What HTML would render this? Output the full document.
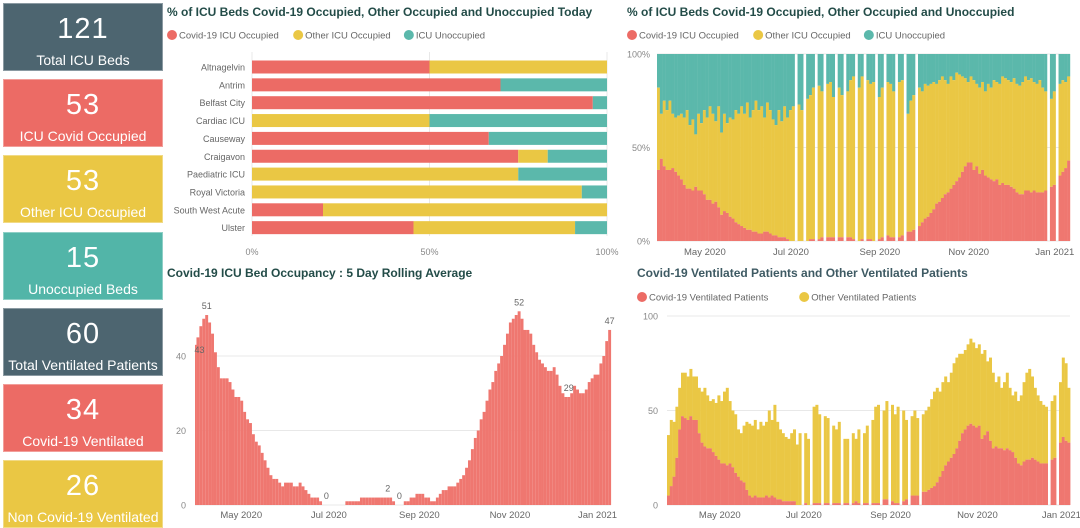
<!DOCTYPE html>
<html><head><meta charset="utf-8">
<style>
html,body{margin:0;padding:0;background:#fff;}
body{width:1080px;height:528px;position:relative;overflow:hidden;font-family:"Liberation Sans","DejaVu Sans",sans-serif;}
.card{position:absolute;left:3px;width:160px;height:68px;color:#fff;text-align:center;box-sizing:border-box;border:1px solid rgba(255,255,255,0.35);}
.card .num{position:absolute;left:0;right:0;top:8px;font-size:29px;line-height:34px;letter-spacing:1px;}
.card .lbl{position:absolute;left:0;right:0;top:47px;font-size:14px;line-height:18px;white-space:nowrap;}
.title{position:absolute;font-size:12px;font-weight:bold;color:#234C48;white-space:nowrap;}
svg{position:absolute;left:0;top:0;}
svg text{font-family:"Liberation Sans","DejaVu Sans",sans-serif;}
</style></head>
<body>
<div class="card" style="top:3px;background:#4D6570"><div class="num">121</div><div class="lbl">Total ICU Beds</div></div>
<div class="card" style="top:79px;background:#EC6B65"><div class="num">53</div><div class="lbl">ICU Covid Occupied</div></div>
<div class="card" style="top:155px;background:#EAC744"><div class="num">53</div><div class="lbl">Other ICU Occupied</div></div>
<div class="card" style="top:232px;background:#52B5A8"><div class="num">15</div><div class="lbl">Unoccupied Beds</div></div>
<div class="card" style="top:308px;background:#4D6570"><div class="num">60</div><div class="lbl">Total Ventilated Patients</div></div>
<div class="card" style="top:384px;background:#EC6B65"><div class="num">34</div><div class="lbl">Covid-19 Ventilated</div></div>
<div class="card" style="top:460px;background:#EAC744"><div class="num">26</div><div class="lbl">Non Covid-19 Ventilated</div></div>

<div class="title" style="left:167px;top:5px">% of ICU Beds Covid-19 Occupied, Other Occupied and Unoccupied Today</div>
<div class="title" style="left:627px;top:5px">% of ICU Beds Covid-19 Occupied, Other Occupied and Unoccupied</div>
<div class="title" style="left:167px;top:266px">Covid-19 ICU Bed Occupancy : 5 Day Rolling Average</div>
<div class="title" style="left:637px;top:266px;color:#3E5A63">Covid-19 Ventilated Patients and Other Ventilated Patients</div>

<svg id="chart" width="1080" height="528"></svg>

<script>
// ---- Chart 1: hospitals today ----
const hospitals = ["Altnagelvin","Antrim","Belfast City","Cardiac ICU","Causeway","Craigavon","Paediatric ICU","Royal Victoria","South West Acute","Ulster"];
const hospCovid = [50,70,96,0,66.7,75,0,0,20,45.5];
const hospOther = [50,0,0,50,0,8.3,75,92.9,80,45.5];
const hospUnocc = [0,30,4,50,33.3,16.7,25,7.1,0,9];
const pctTicks = ["0%","50%","100%"];

// ---- shared time series (2-day steps from 30 Mar 2020) ----
const covidPct = [38,44,40,38,38,39,37,35,33,30, 28,28,27,29,27,27,25,22,22,20, 21,18,14,16,15,13,12,10,9,8, 7,6,6,5,5,4,4,5,5,4, 3,3,2,2,2,1,0,0,0,0, 0,0,0,1,1,1,1,2,2,2, 2,2,2,2,2,2,2,2,1,1, 0,1,1,1,1,0,1,1,2,3, 3,2,2,2,2,3,4,5,5,6, 7,8,10,12,13,15,17,20,21,23, 25,26,28,30,32,34,37,40,42,42, 38,40,36,38,35,34,33,32,33,30, 31,30,30,29,28,26,25,25,27,27, 26,27,26,26,26,27,28,29,30,31, 35,37,39,43];
const occupiedPct = [82,68,75,70,75,68,66,67,68,66, 70,62,65,57,68,63,70,66,72,68, 64,72,58,68,63,66,65,70,68,72, 68,74,66,70,75,70,72,66,74,70, 65,62,70,64,72,66,70,72,75,73, 70,68,76,78,82,80,83,80,78,84, 85,77,80,82,78,84,80,86,88,84, 82,88,90,86,84,85,80,77,82,80, 85,84,80,82,85,86,83,68,75,78, 80,82,80,84,83,84,85,84,86,88, 86,84,88,86,90,89,88,87,85,88, 86,84,82,85,80,84,82,86,85,84, 88,87,86,85,87,84,83,85,88,86, 87,85,84,86,82,80,78,76,80,82, 84,86,85,88];
const missingIdx = [48,51,55,58,62,65,69,72,76,79,83,86,90,136,139];
const rollingAvg = [43,45,48,50,51,49,46,41,37,34, 34,34,33,31,29,29,28,25,23,22, 19,17,16,14,12,10,8,7,7,6, 5,6,6,6,5,5,6,5,4,3, 2,2,2,1,0,0,0,0,0,0, 0,0,1,1,1,1,1,2,2,2, 2,2,2,2,2,2,2,2,1,0, 0,0,1,1,2,2,3,3,3,2, 2,1,1,2,3,4,4,5,5,5, 6,7,8,10,12,15,18,20,23,25, 28,31,33,36,38,40,43,46,49,50, 51,52,50,47,47,46,43,41,39,38, 37,36,36,37,35,32,30,29,29,30, 32,31,30,30,31,33,34,35,35,38, 40,44,47,null];
const ventCovid = [5,10,15,25,40,47,46,45,47,45, 45,38,33,31,30,30,28,26,24,22, 22,21,22,20,17,15,13,12,8,5, 4,5,4,4,4,5,4,5,4,3, 3,2,2,2,2,2,0,0,1,1, 0,0,1,1,1,2,1,1,1,1, 1,1,1,1,1,1,1,2,1,1, 1,1,1,1,1,1,2,3,3,2, 2,1,1,2,2,3,4,5,5,5, 6,7,7,8,9,10,12,15,18,21, 23,25,27,30,34,38,40,42,43,42, 41,42,35,37,39,34,30,31,30,30, 29,30,29,28,25,22,21,23,24,24, 25,24,23,22,22,22,23,24,25,28, 33,36,34,33];
const ventTotal = [37,45,44,52,62,70,70,68,72,68, 68,62,60,62,58,55,56,54,58,55, 60,62,55,50,48,40,38,42,44,43, 42,45,40,44,42,44,50,45,53,44, 40,38,36,35,38,40,32,38,36,38, 35,33,52,53,48,46,47,46,44,42, 40,44,38,35,35,40,38,35,40,43, 38,42,40,45,52,53,48,50,55,58, 53,48,52,55,50,45,42,47,50,46, 45,48,50,52,56,60,62,60,65,68, 65,70,75,78,80,80,82,85,88,86, 83,85,80,82,76,78,70,65,68,62, 65,70,62,58,60,55,58,65,70,72, 68,62,58,55,53,52,50,55,58,60, 65,78,75,62];
const monthTicks = ["May 2020","Jul 2020","Sep 2020","Nov 2020","Jan 2021"];
const monthTickIdx = [16,46,77,108,138];
const rollLabelIdx = [0,4,45,66,70,111,128,142];
const rollTicks = [0,20,40];
const ventTicks = [0,50,100];
const pctAxisTicks = [0,50,100];

const RED="#EC6B65", RED2="#EF7770", YEL="#EAC744", TEAL="#5BB8AB", GRID="#E8E8E8", TXT="#777";
const NS="http://www.w3.org/2000/svg";
const svg=document.getElementById('chart');
function mk(tag,attrs,parent){const e=document.createElementNS(NS,tag);for(const k in attrs)e.setAttribute(k,attrs[k]);(parent||svg).appendChild(e);return e;}
function txt(x,y,s,size,anchor,fill,parent){const t=mk('text',{x:x,y:y,'font-size':size,'text-anchor':anchor||'start',fill:fill||TXT},parent);t.textContent=s;return t;}
function legend(x,y,items,g){let cx=x;items.forEach(it=>{const c=mk('circle',{cx:cx+5,cy:y,r:5,fill:it[1]},g);const t=txt(cx+12,y+3.5,it[0],9.5,'start','#666',g);cx+=12+it[0].length*5.15+6;});}

// Chart1
const g1=mk('g',{});
legend(167,35,[["Covid-19 ICU Occupied",RED],["Other ICU Occupied",YEL],["ICU Unoccupied",TEAL]],g1);
const x1=v=>252+v*(607-252)/100;
const y1=i=>67+i*17.85;
pctAxisTicks.forEach((v,k)=>{mk('line',{x1:x1(v),x2:x1(v),y1:52,y2:236,stroke:GRID},g1);const t=txt(x1(v),255,pctTicks[k],9,'middle','#888',g1);});
hospitals.forEach((h,i)=>{
  const t=txt(245,y1(i)+3.5,h,9,'end','#666',g1);
  let acc=0;[[hospCovid[i],RED],[hospOther[i],YEL],[hospUnocc[i],TEAL]].forEach(s=>{if(s[0]>0){const r=mk('rect',{x:x1(acc),y:y1(i)-6.5,width:x1(acc+s[0])-x1(acc),height:13,fill:s[1]},g1);}acc+=s[0];});
});

// Chart2 %
const g2=mk('g',{});
legend(627,35,[["Covid-19 ICU Occupied",RED],["Other ICU Occupied",YEL],["ICU Unoccupied",TEAL]],g2);
const bw2=(1070-657)/144;
const x2=i=>657+i*bw2;
const y2=v=>241-v*(241-54)/100;
pctAxisTicks.forEach((v,k)=>{mk('line',{x1:657,x2:1070,y1:y2(v),y2:y2(v),stroke:GRID},g2);const t=txt(650,y2(v)+3.5,pctTicks[k],9,'end','#888',g2);});
covidPct.forEach((c,i)=>{
  if(missingIdx.includes(i))return;
  const o=occupiedPct[i];
  const a=mk('rect',{x:x2(i),y:y2(100),width:bw2+0.2,height:y2(o)-y2(100),fill:TEAL},g2);
  const b=mk('rect',{x:x2(i),y:y2(o),width:bw2+0.2,height:y2(c)-y2(o),fill:YEL},g2);
  const r=mk('rect',{x:x2(i),y:y2(c),width:bw2+0.2,height:y2(0)-y2(c),fill:RED2},g2);
});
monthTicks.forEach((m,k)=>{const t=txt(x2(monthTickIdx[k])+2,255,m,9.5,'middle','#666',g2);});

// Chart3 rolling avg
const g3=mk('g',{});
const x3=i=>195+1.46*(2*i-1);
const y3=v=>505-v*(505-356)/40;
rollTicks.forEach(v=>{mk('line',{x1:195,x2:611,y1:y3(v),y2:y3(v),stroke:GRID},g3);const t=txt(186,y3(v)+3.5,String(v),9,'end','#888',g3);});
rollingAvg.forEach((v,i)=>{if(v===null)return;const x=Math.max(x3(i),195);const r=mk('rect',{x:x,y:y3(v),width:x3(i)+2.92-x,height:y3(0)-y3(v),fill:RED2},g3);});
rollLabelIdx.forEach(i=>{const v=rollingAvg[i];const t=txt(x3(i)+(i===0?6:1.5),y3(v)-(i===0?-8:6),String(v),9,'middle','#666',g3);});
monthTicks.forEach((m,k)=>{const t=txt(x3(monthTickIdx[k])+1,518,m,9.5,'middle','#666',g3);});

// Chart4 ventilated
const g4=mk('g',{});
legend(637,297,[["Covid-19 Ventilated Patients",RED],["Other Ventilated Patients",YEL]],g4);
const bw4=2.8;
const x4=i=>667+i*bw4;
const y4=v=>505-v*(505-316)/100;
ventTicks.forEach(v=>{mk('line',{x1:667,x2:1070,y1:y4(v),y2:y4(v),stroke:GRID},g4);const t=txt(658,y4(v)+3.5,String(v),9,'end','#888',g4);});
ventCovid.forEach((c,i)=>{
  if(missingIdx.includes(i))return;
  const tot=ventTotal[i];
  const b=mk('rect',{x:x4(i),y:y4(tot),width:bw4+0.2,height:y4(c)-y4(tot),fill:YEL},g4);
  const r=mk('rect',{x:x4(i),y:y4(c),width:bw4+0.2,height:y4(0)-y4(c),fill:RED2},g4);
});
monthTicks.forEach((m,k)=>{const t=txt(x4(monthTickIdx[k])+8,518,m,9.5,'middle','#666',g4);});
</script>
</body></html>
